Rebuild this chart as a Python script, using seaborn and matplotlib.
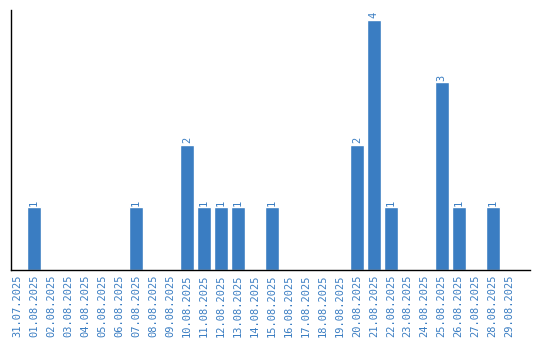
import matplotlib
matplotlib.use("Agg")
import matplotlib.pyplot as plt
import seaborn as sns
import pandas as pd

dates = ["31.07.2025", "01.08.2025", "02.08.2025", "03.08.2025", "04.08.2025", "05.08.2025",
         "06.08.2025", "07.08.2025", "08.08.2025", "09.08.2025", "10.08.2025", "11.08.2025",
         "12.08.2025", "13.08.2025", "14.08.2025", "15.08.2025", "16.08.2025", "17.08.2025",
         "18.08.2025", "19.08.2025", "20.08.2025", "21.08.2025", "22.08.2025", "23.08.2025",
         "24.08.2025", "25.08.2025", "26.08.2025", "27.08.2025", "28.08.2025", "29.08.2025"]
counts = [0, 1, 0, 0, 0, 0, 0, 1, 0, 0, 2, 1, 1, 1, 0, 1, 0, 0, 0, 0, 2, 4, 1, 0, 0, 3, 1, 0, 1, 0]

color = "#3a7dc2"
sns.set_style("white")
plt.rcParams['font.family'] = ['DejaVu Sans Mono', 'DejaVu Sans']

df = pd.DataFrame({"date": dates, "count": counts})
fig = plt.figure(figsize=(5.4, 3.4), dpi=100)
ax = fig.add_axes([0.0204, 0.206, 0.9606, 0.7646])
sns.barplot(data=df, x="date", y="count", color=color, saturation=1, width=0.82, ax=ax)

for i, v in enumerate(counts):
    if v > 0:
        ax.text(i, v + 0.03, str(v), rotation=90, ha="center", va="bottom",
                fontsize=7.5, color=color)

ax.set_ylim(0, 4.16)
ax.set_xlim(-0.35, 30.18)
ax.set_xlabel("")
ax.set_ylabel("")
ax.set_yticks([])
ax.tick_params(axis="x", length=0, pad=3, labelsize=7.5, labelcolor=color, rotation=90)
for s in ["top", "right"]:
    ax.spines[s].set_visible(False)
for s in ["left", "bottom"]:
    ax.spines[s].set_color("black")
    ax.spines[s].set_linewidth(1)

fig.savefig("out.png", dpi=100)
